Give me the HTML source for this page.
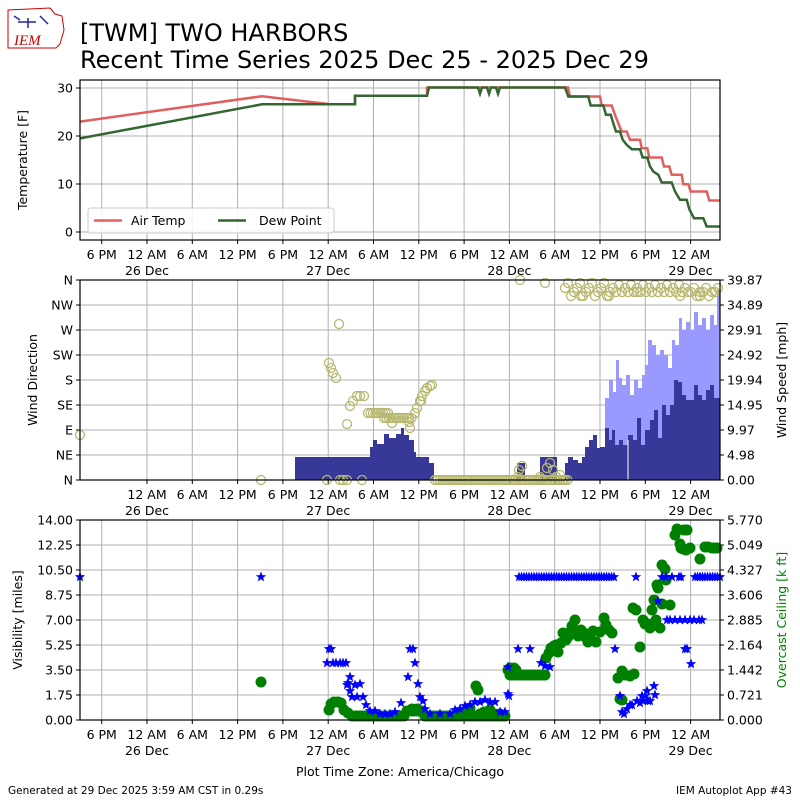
<!DOCTYPE html>
<html><head><meta charset="utf-8"><style>
body{margin:0;background:#fff;}
svg{display:block;font-family:"DejaVu Sans","Liberation Sans",sans-serif;}
</style></head><body>
<svg id="s" width="800" height="800" viewBox="0 0 800 800" xmlns="http://www.w3.org/2000/svg">
<rect width="800" height="800" fill="#fff"/>
<g>
<path d="M8,10 L50,8 L55,14 L62,16 L64,30 L60,44 L56,48 L8,48 Z" fill="#fff" stroke="#c00" stroke-width="1"/>
<path d="M18,22 L36,22 M28,18 L28,28 M40,16 L48,24 M14,16 L20,20" stroke="#22a" stroke-width="1.5"/>
<text x="14" y="45" font-size="15" font-style="italic" fill="#c00" font-family="Liberation Serif,serif">IEM</text>
</g>
<text x="80" y="41" font-size="24">[TWM] TWO HARBORS</text>
<text x="80" y="68" font-size="24">Recent Time Series 2025 Dec 25 - 2025 Dec 29</text>
<g id="p1"></g><g id="p2"></g><g id="p3"></g>
<text x="8" y="794" font-size="10.5">Generated at 29 Dec 2025 3:59 AM CST in 0.29s</text>
<text x="792" y="794" font-size="10.5" text-anchor="end">IEM Autoplot App #43</text>
</svg>
<script>
const NS="http://www.w3.org/2000/svg";
function el(p,t,a,txt){const e=document.createElementNS(NS,t);for(const k in a)e.setAttribute(k,a[k]);if(txt!==undefined)e.textContent=txt;p.appendChild(e);return e;}
const ticks=[];for(let i=0;i<14;i++)ticks.push(+(101.7+45.3*i).toFixed(1));
const tl=["6 PM","12 AM","6 AM","12 PM","6 PM","12 AM","6 AM","12 PM","6 PM","12 AM","6 AM","12 PM","6 PM","12 AM"];
const days={1:"26 Dec",5:"27 Dec",9:"28 Dec",13:"29 Dec"};
function frame(g,y0,y1,skipFirst){
  ticks.forEach((x,i)=>{if(skipFirst&&i==0)return;el(g,'line',{x1:x,x2:x,y1:y0,y2:y1,stroke:'#b0b0b0','stroke-width':1});
   el(g,'line',{x1:x,x2:x,y1:y1,y2:y1+4,stroke:'#000'});
   el(g,'text',{x:x,y:y1+19,'font-size':12.5,'text-anchor':'middle'},tl[i]);
   if(days[i])el(g,'text',{x:x,y:y1+35,'font-size':12.5,'text-anchor':'middle'},days[i]);});
}
function hgrid(g,ys,labs){ys.forEach((y,i)=>{el(g,'line',{x1:80,x2:720,y1:y,y2:y,stroke:'#b0b0b0'});
  el(g,'line',{x1:76,x2:80,y1:y,y2:y,stroke:'#000'});
  el(g,'text',{x:73,y:y+4.5,'font-size':12.5,'text-anchor':'end'},labs[i]);});}
function box(g,y0,y1){el(g,'rect',{x:80,y:y0,width:640,height:y1-y0,fill:'none',stroke:'#000','stroke-width':1.2});}
function rlab(g,x,y,t,c){el(g,'text',{x:0,y:0,'font-size':12.5,'text-anchor':'middle',fill:c||'#000',transform:`translate(${x},${y}) rotate(-90)`},t);}
// Panel 1
const p1=document.getElementById('p1');
frame(p1,80,240,false);
hgrid(p1,[232,184,136,88],["0","10","20","30"]);
const T=v=>232-v*4.8;
const Z=p=>[560+p[0]/3,80+p[1]/3+1.5];
function polyPx(pts,c){el(p1,'polyline',{points:pts.map(p=>p[0].toFixed(1)+','+p[1].toFixed(1)).join(' '),fill:'none',stroke:c,'stroke-width':2.5});}
const redHead=[[80,23],[262,28.3],[330,26.6],[355,26.6],[355,28.4],[427,28.4],[427,30.1],[568,30.1]].map(p=>[p[0],T(p[1])]);
const redTail=[[30,45],[120,45],[125,72],[155,72],[165,100],[175,125],[185,150],[200,150],[210,175],[240,175],[245,200],[262,200],[268,228],[305,228],[312,255],[328,255],[335,280],[365,280],[370,308],[385,308],[392,330],[440,330],[448,357],[480,357]].map(Z);
polyPx(redHead.concat(redTail),'#e06060');
const grHead=[[80,19.5],[262,26.6],[355,26.6],[355,28.4],[427,28.4],[429,30.1],[478,30.1],[480,28.8],[482,30.1],[487,30.1],[489,28.8],[491,30.1],[496,30.1],[498,28.8],[500,30.1],[565,30.1]].map(p=>[p[0],T(p[1])]);
const grTail=[[25,45],[85,45],[92,72],[130,72],[138,100],[152,100],[160,125],[168,150],[180,150],[188,175],[200,190],[215,203],[240,203],[248,228],[262,228],[270,255],[280,270],[295,280],[305,303],[335,303],[345,330],[360,355],[380,355],[388,383],[402,410],[430,410],[440,435],[480,435]].map(Z);
polyPx(grHead.concat(grTail),'#336633');
box(p1,80,240);
el(p1,'rect',{x:88,y:208,width:246,height:25,rx:3,fill:'#fff',stroke:'#ccc','fill-opacity':0.85});
el(p1,'line',{x1:94,x2:122,y1:220.5,y2:220.5,stroke:'#e06060','stroke-width':2.5});
el(p1,'text',{x:131,y:225,'font-size':12.5},'Air Temp');
el(p1,'line',{x1:218,x2:246,y1:220.5,y2:220.5,stroke:'#336633','stroke-width':2.5});
el(p1,'text',{x:259,y:225,'font-size':12.5},'Dew Point');
rlab(p1,27,160,'Temperature [F]');
// Panel 2
const p2=document.getElementById('p2');
frame(p2,280,480,true);
const dirs=["N","NE","E","SE","S","SW","W","NW","N"];
hgrid(p2,dirs.map((d,i)=>480-i*25),dirs);
const rl=["0.00","4.98","9.97","14.95","19.94","24.92","29.91","34.89","39.87"];
rl.forEach((t,i)=>{let y=480-i*25;el(p2,'line',{x1:720,x2:724,y1:y,y2:y,stroke:'#000'});el(p2,'text',{x:727,y:y+4.5,'font-size':12.5},t);});
function bars(segs,c){segs.forEach(s=>el(p2,'rect',{x:s[0],y:s[2],width:s[1]-s[0],height:480-s[2],fill:c}));}
let gust=[[605,609,398],[609,613,380],[613,616,392],[616,619,360],[619,622,378],[622,626,385],[626,630,375],[630,634,395],[634,638,380],[638,642,388],[642,645,375],[645,648,365],[648,652,340],[652,656,345],[656,660,355],[660,664,350],[664,668,355],[668,672,368],[672,675,340],[675,679,345],[679,682,318],[682,686,330],[686,690,322],[690,694,330],[694,698,312],[698,702,325],[702,706,318],[706,710,330],[710,714,315],[714,717,325],[717,720,290]];
bars(gust,'#9999ff');
let dk=[[295,370,457],[370,373,447],[373,377,440],[377,384,444],[384,389,434],[389,396,438],[396,401,434],[401,404,428],[404,409,435],[409,414,440],[414,416,452],[416,429,457],[429,434,463],
[517,525,463],[540,557,457],[565,568,463],[568,573,457],[573,578,460],[578,582,463],[582,585,457],[585,589,447],[589,593,440],[593,597,435],[597,600,448],[600,605,447],[605,609,428],[609,612,440],[612,615,430],[615,619,445],[619,623,440],[623,628,445],[628,633,435],[633,637,440],[637,641,418],[641,645,445],[645,650,430],[650,654,420],[654,658,410],[658,662,438],[662,666,405],[666,670,415],[670,674,405],[674,678,380],[678,682,382],[682,686,395],[686,690,400],[690,694,400],[694,698,385],[698,702,395],[702,706,400],[706,710,390],[710,714,385],[714,720,398]];
bars(dk,'#383898');
el(p2,'line',{x1:628,x2:628,y1:440,y2:480,stroke:'#fff','stroke-width':1});
const wc='#b8b870';
function c2(x,y){el(p2,'circle',{cx:x,cy:y,r:4.5,fill:'none',stroke:wc,'stroke-width':1.3});}
[[80,435],[261,480],[329,363],[331,368],[333,373],[336,378],[339,324],[347,424],[350,406],[353,401],[357,396],[360,396],[364,396],[327,480],[340,480],[343,480],[347,480],[362,480],[410,428],[415,413],[417,408],[420,401],[422,396],[425,391],[427,388],[430,386],[432,385],[421,401]].forEach(p=>c2(p[0],p[1]));
for(let x=368;x<=390;x+=2.5)c2(x,413);
for(let x=384;x<=412;x+=2.5)c2(x,418);
c2(392,423);c2(409,422);
for(let x=435;x<=568;x+=2.5)c2(x,480);
[[519,470],[522,466],[518,477],[540,477],[547,468],[550,463],[553,470],[556,477],[560,475],[563,480],[520,280],[545,283],[541,479]].forEach(p=>c2(p[0],p[1]));
for(let x=565;x<=720;x+=3){let y=(x<610)?[283,288,292,296][Math.floor(x)%4]:(x<690?[292,288,292,285][Math.floor(x)%4]:[292,296,288,292][Math.floor(x)%4]);c2(x,y);}
c2(581,296);c2(609,296);c2(637,292);c2(680,296);c2(700,296);
box(p2,280,480);
rlab(p2,37,380,'Wind Direction');
rlab(p2,786,380,'Wind Speed [mph]');
// Panel 3
const p3=document.getElementById('p3');
frame(p3,520,720,false);
const vl=["0.00","1.75","3.50","5.25","7.00","8.75","10.50","12.25","14.00"];
hgrid(p3,vl.map((d,i)=>720-i*25),vl);
const cl=["0.000","0.721","1.442","2.164","2.885","3.606","4.327","5.049","5.770"];
cl.forEach((t,i)=>{let y=720-i*25;el(p3,'line',{x1:720,x2:724,y1:y,y2:y,stroke:'#000'});el(p3,'text',{x:727,y:y+4.5,'font-size':12.5},t);});
function star(x,y){let p=[];for(let i=0;i<10;i++){let r=i%2?2.3:5.5,a=-Math.PI/2+i*Math.PI/5;p.push((x+r*Math.cos(a)).toFixed(1)+','+(y+r*Math.sin(a)).toFixed(1));}el(p3,'polygon',{points:p.join(' '),fill:'#0000ff'});}
function dot(x,y){el(p3,'circle',{cx:x,cy:y,r:5.5,fill:'#008000'});}
let g=[[261,682],[329,710],[331,704],[334,702],[338,702],[341,703],[344,710],[348,713],[352,716],[356,716]];
for(let x=356;x<=505;x+=3)g.push([x,(x>405&&x<425)?711:716]);
g.push([412,709],[417,709],[467,710],[470,708],[476,686],[478,690],[480,714],[484,712],[490,710],[495,714],[500,714],[505,716],[508,670],[510,668],[514,668],[516,670]);
for(let x=510;x<=545;x+=2.5)g.push([x,675]);
g.push([546,658],[549,653],[551,648],[554,646],[556,645],[558,652],[561,643],[563,633],[566,640],[568,637],[570,632],[572,626],[575,620],[578,636],[581,630],[584,633],[586,638],[588,642],[590,636],[593,631],[596,642],[600,632],[604,618],[606,625],[609,630],[612,633],[618,678],[622,671],[625,675],[630,676],[634,674],[620,699],[622,700],[633,608],[636,610],[640,647],[643,620],[645,624],[648,624],[650,628],[652,610],[654,600],[657,585],[658,588],[662,604],[662,565],[665,569],[666,580],[670,605],[675,535],[677,529],[680,544],[681,548],[683,549],[686,550],[690,548],[700,559],[705,547],[708,547],[712,548],[715,548],[717,548],[687,530],[684,530],[656,620],[660,628]);
g.forEach(p=>dot(p[0],p[1]));
let v=[[80,577],[261,577],[327,663],[329,649],[331,649],[333,663],[336,663],[340,663],[343,663],[346,663],[350,677],[347,685],[350,691],[352,697],[348,683],[355,685],[360,684],[357,697],[363,697],[366,705],[370,711],[375,711],[380,714],[385,714],[390,714],[395,712],[401,703],[408,677],[410,649],[413,649],[415,663],[418,684],[420,697],[423,701],[425,709],[430,714],[440,714],[450,714],[455,710],[460,709],[465,706],[470,705],[475,702],[480,702],[485,700],[490,702],[495,702],[500,712],[505,712],[508,694],[509,696],[508,667],[518,649],[530,649],[541,663],[545,666],[550,667]];
for(let x=519;x<=615;x+=2.5)v.push([x,577]);
v.push([615,649],[620,696],[622,712],[624,714],[627,709],[630,705],[632,705],[637,701],[640,703],[642,696],[643,701],[645,696],[647,691],[648,701],[650,701],[654,686],[655,695],[658,601],[662,577],[666,577],[667,620],[670,620],[675,620],[680,620],[685,620],[690,620],[694,620],[699,620],[702,620],[687,649],[691,664],[685,649]);
[[672,577],[679,577],[681,577],[700,577],[636,577]].forEach(p=>v.push(p));
for(let x=695;x<=720;x+=2.5)v.push([x,577]);
v.forEach(p=>star(p[0],p[1]));
box(p3,520,720);
rlab(p3,22,620,'Visibility [miles]');
rlab(p3,786,620,'Overcast Ceiling [k ft]','#008000');
el(p3,'text',{x:400,y:776,'font-size':12.5,'text-anchor':'middle'},'Plot Time Zone: America/Chicago');
</script>
</body></html>
